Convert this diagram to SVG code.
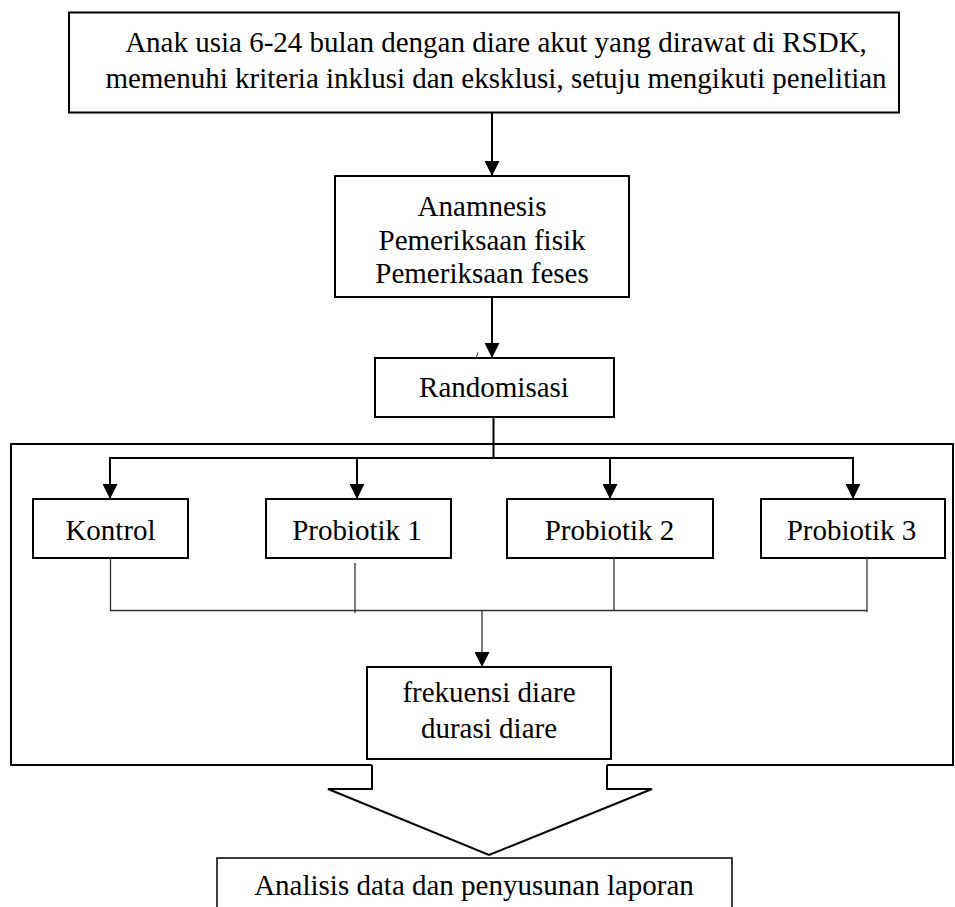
<svg xmlns="http://www.w3.org/2000/svg" width="955" height="907" viewBox="0 0 955 907">
<style>
  .box { fill: #fff; stroke: #000; stroke-width: 2; }
  .t { font-family: "Liberation Serif", "Times New Roman", serif; font-size: 29px; fill: #000; text-anchor: middle; }
  .ln { fill: none; stroke: #000; stroke-width: 2; }
  .thin { fill: none; stroke: #333; stroke-width: 1.3; }
</style>
<defs>
  <marker id="ah" markerWidth="15" markerHeight="15" refX="15" refY="7.5" orient="auto" markerUnits="userSpaceOnUse">
    <path d="M0,0 L15,7.5 L0,15 Z" fill="#000"/>
  </marker>
</defs>
<rect width="955" height="907" fill="#fff"/>

<g id="container">
  <path class="ln" d="M372,765 L11,765 L11,444 L953,444 L953,765 L607,765"/>
</g>

<g id="n-top">
  <rect class="box" x="69" y="12.5" width="830" height="100"/>
  <text class="t" x="496" y="52">Anak usia 6-24 bulan dengan diare akut yang dirawat di RSDK,</text>
  <text class="t" x="496" y="88">memenuhi kriteria inklusi dan eksklusi, setuju mengikuti penelitian</text>
</g>

<g id="n-anamnesis">
  <rect class="box" x="335" y="176" width="294" height="121"/>
  <text class="t" x="482" y="216">Anamnesis</text>
  <text class="t" x="482" y="250">Pemeriksaan fisik</text>
  <text class="t" x="482" y="283">Pemeriksaan feses</text>
</g>

<g id="n-random">
  <rect class="box" x="375" y="358" width="239" height="59"/>
  <text class="t" x="494" y="397">Randomisasi</text>
</g>

<g id="n-kontrol">
  <rect class="box" x="33" y="499" width="155" height="59"/>
  <text class="t" x="110.5" y="540">Kontrol</text>
</g>
<g id="n-p1">
  <rect class="box" x="266" y="499" width="185" height="59"/>
  <text class="t" x="357" y="540">Probiotik 1</text>
</g>
<g id="n-p2">
  <rect class="box" x="507" y="499" width="206" height="59"/>
  <text class="t" x="609.5" y="540">Probiotik 2</text>
</g>
<g id="n-p3">
  <rect class="box" x="761" y="499" width="184" height="59"/>
  <text class="t" x="851.5" y="540">Probiotik 3</text>
</g>

<g id="n-outcome">
  <rect class="box" x="367" y="667" width="244" height="92"/>
  <text class="t" x="489" y="702">frekuensi diare</text>
  <text class="t" x="489" y="738">durasi diare</text>
</g>

<g id="n-big-arrow">
  <path fill="#fff" stroke="#000" stroke-width="2" d="M372,765 L372,789 L328,789 L489,855 L652,789 L607,789 L607,765"/>
</g>

<g id="n-analisis">
  <path fill="#fff" stroke="#000" stroke-width="1.5" d="M217,910 L217,858 L732,858 L732,910"/>
  <text class="t" x="474" y="895">Analisis data dan penyusunan laporan</text>
</g>

<g id="connectors">
  <line class="ln" x1="492" y1="113" x2="492" y2="176" marker-end="url(#ah)"/>
  <line class="ln" x1="492" y1="297" x2="492" y2="358" marker-end="url(#ah)"/>
  <line x1="476.5" y1="357" x2="478" y2="352.5" stroke="#333" stroke-width="1"/>
  <line class="ln" x1="493.5" y1="417" x2="493.5" y2="458"/>
  <line class="ln" x1="110" y1="458" x2="853" y2="458"/>
  <line class="ln" x1="110" y1="457" x2="110" y2="499" marker-end="url(#ah)"/>
  <line class="ln" x1="357" y1="457" x2="357" y2="499" marker-end="url(#ah)"/>
  <line class="ln" x1="610" y1="457" x2="610" y2="499" marker-end="url(#ah)"/>
  <line class="ln" x1="853" y1="457" x2="853" y2="499" marker-end="url(#ah)"/>
  <line class="thin" x1="110.5" y1="558" x2="110.5" y2="611"/>
  <line class="thin" x1="355" y1="563" x2="355" y2="613"/>
  <line class="thin" x1="614" y1="558" x2="614" y2="611"/>
  <line class="thin" x1="867" y1="558" x2="867" y2="612"/>
  <line class="thin" x1="110" y1="610.5" x2="867" y2="610.5"/>
  <line class="thin" x1="482" y1="610" x2="482" y2="667" marker-end="url(#ah)"/>
</g>
</svg>
